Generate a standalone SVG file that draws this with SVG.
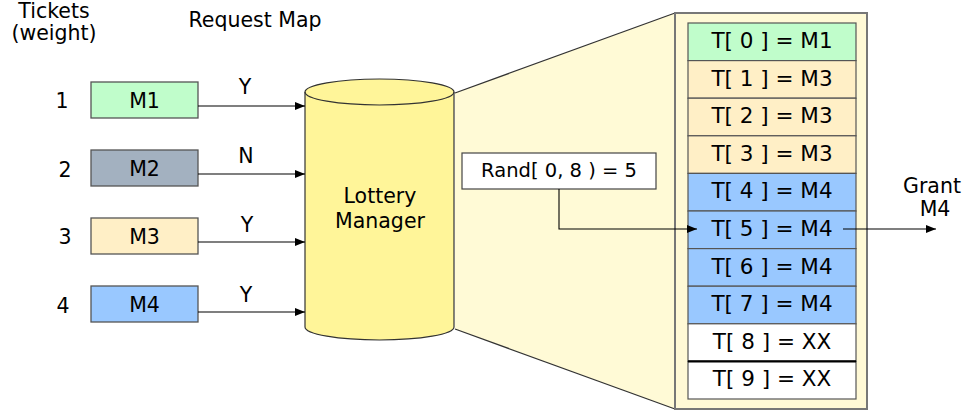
<svg xmlns="http://www.w3.org/2000/svg" width="970" height="416" viewBox="0 0 970 416">
  <defs>
    <marker id="arrow" viewBox="0 0 10 8" refX="10" refY="4" markerWidth="10" markerHeight="8" markerUnits="userSpaceOnUse" orient="auto">
      <path d="M0,0 L10,4 L0,8 z" fill="#000"/>
    </marker>
  </defs>
  <style>
    text { font-family: "DejaVu Sans", Verdana, sans-serif; fill: #000; }
    .t20 { font-size: 20.5px; }
    .mid { text-anchor: middle; }
    .box { stroke: #555; stroke-width: 1.3; }
    .row { stroke: #555; stroke-width: 1.2; }
    .cell { font-size: 21.5px; text-anchor: middle; }
    .conn { fill: none; stroke: #000; stroke-width: 1.1; }
  </style>
  <rect width="970" height="416" fill="#fff"/>

  <!-- headings -->
  <g id="headings">
    <text class="t20 mid" x="54" y="18">Tickets</text>
    <text class="t20 mid" x="54" y="40">(weight)</text>
    <text class="t20 mid" x="255" y="27">Request Map</text>
  </g>

  <!-- zoom fan from cylinder to ticket table -->
  <g id="zoom-fan">
    <polygon points="455,93 675,13 675,409 455,329" fill="#FFFAD6"/>
    <line x1="455" y1="93" x2="675" y2="13" stroke="#333" stroke-width="1.2"/>
    <line x1="455" y1="329" x2="675" y2="409" stroke="#333" stroke-width="1.2"/>
  </g>

  <!-- requesters -->
  <g id="req-m1">
    <text class="t20 mid" x="62" y="108">1</text>
    <rect class="box" x="91" y="82" width="107" height="36" fill="#C0FDCB"/>
    <text class="t20 mid" x="144.5" y="108">M1</text>
  </g>
  <g id="req-m2">
    <text class="t20 mid" x="65" y="177">2</text>
    <rect class="box" x="91" y="150" width="107" height="36" fill="#A3B1C0"/>
    <text class="t20 mid" x="144.5" y="176">M2</text>
  </g>
  <g id="req-m3">
    <text class="t20 mid" x="65" y="244">3</text>
    <rect class="box" x="91" y="218" width="107" height="36" fill="#FFEFC6"/>
    <text class="t20 mid" x="144.5" y="244">M3</text>
  </g>
  <g id="req-m4">
    <text class="t20 mid" x="63" y="313">4</text>
    <rect class="box" x="91" y="286" width="107" height="36" fill="#99C8FF"/>
    <text class="t20 mid" x="144.5" y="312">M4</text>
  </g>

  <!-- lottery manager cylinder -->
  <g id="lottery-manager">
    <path d="M305,92 L305,327 A74.5,13 0 0 0 454,327 L454,92 A74.5,13 0 0 0 305,92 z" fill="#FFF599" stroke="#333" stroke-width="1.2"/>
    <path d="M305,92 A74.5,13 0 0 0 454,92" fill="none" stroke="#333" stroke-width="1.2"/>
    <text class="t20 mid" x="380" y="203">Lottery</text>
    <text class="t20 mid" x="380" y="228">Manager</text>
  </g>

  <!-- random draw -->
  <g id="rand">
    <rect x="462" y="153" width="194" height="36" fill="#fff" stroke="#444" stroke-width="1.2"/>
    <text class="mid" x="559" y="177" style="font-size:19.5px">Rand[ 0, 8 ) = 5</text>
  </g>

  <!-- ticket table -->
  <g id="ticket-table">
    <rect x="675" y="13" width="192" height="396" fill="#FFF9D6" stroke="#777" stroke-width="2"/>
    <rect class="row" x="688" y="23" width="168" height="37.6" fill="#C0FDCB"/>
    <rect class="row" x="688" y="60.6" width="168" height="37.6" fill="#FFEFC6"/>
    <rect class="row" x="688" y="98.2" width="168" height="37.6" fill="#FFEFC6"/>
    <rect class="row" x="688" y="135.8" width="168" height="37.6" fill="#FFEFC6"/>
    <rect class="row" x="688" y="173.4" width="168" height="37.6" fill="#99C8FF"/>
    <rect class="row" x="688" y="211" width="168" height="37.6" fill="#99C8FF"/>
    <rect class="row" x="688" y="248.6" width="168" height="37.6" fill="#99C8FF"/>
    <rect class="row" x="688" y="286.2" width="168" height="37.6" fill="#99C8FF"/>
    <rect class="row" x="688" y="323.8" width="168" height="37.6" fill="#fff"/>
    <rect class="row" x="688" y="361.4" width="168" height="37.6" fill="#fff"/>
    <line x1="688" y1="361.4" x2="856" y2="361.4" stroke="#000" stroke-width="2.2"/>
    <text class="cell" x="772" y="48">T[ 0 ] = M1</text>
    <text class="cell" x="772" y="85.6">T[ 1 ] = M3</text>
    <text class="cell" x="772" y="123.2">T[ 2 ] = M3</text>
    <text class="cell" x="772" y="160.8">T[ 3 ] = M3</text>
    <text class="cell" x="772" y="198.4">T[ 4 ] = M4</text>
    <text class="cell" x="772" y="236">T[ 5 ] = M4</text>
    <text class="cell" x="772" y="273.6">T[ 6 ] = M4</text>
    <text class="cell" x="772" y="311.2">T[ 7 ] = M4</text>
    <text class="cell" x="772" y="348.8">T[ 8 ] = XX</text>
    <text class="cell" x="772" y="386.4">T[ 9 ] = XX</text>
  </g>

  <!-- grant output -->
  <g id="grant">
    <text class="t20 mid" x="932" y="193">Grant</text>
    <text class="t20 mid" x="935" y="216">M4</text>
  </g>

  <!-- connectors -->
  <g id="connectors">
    <line class="conn" x1="198" y1="106" x2="305" y2="106" marker-end="url(#arrow)"/>
    <line class="conn" x1="198" y1="174" x2="305" y2="174" marker-end="url(#arrow)"/>
    <line class="conn" x1="198" y1="242" x2="305" y2="242" marker-end="url(#arrow)"/>
    <line class="conn" x1="198" y1="312" x2="305" y2="312" marker-end="url(#arrow)"/>
    <polyline class="conn" points="559,189 559,229 697,229" marker-end="url(#arrow)"/>
    <line class="conn" x1="843" y1="229" x2="936" y2="229" marker-end="url(#arrow)"/>
    <text class="t20 mid" x="245" y="94">Y</text>
    <text class="t20 mid" x="246" y="163">N</text>
    <text class="t20 mid" x="247" y="232">Y</text>
    <text class="t20 mid" x="246" y="302">Y</text>
  </g>
</svg>
